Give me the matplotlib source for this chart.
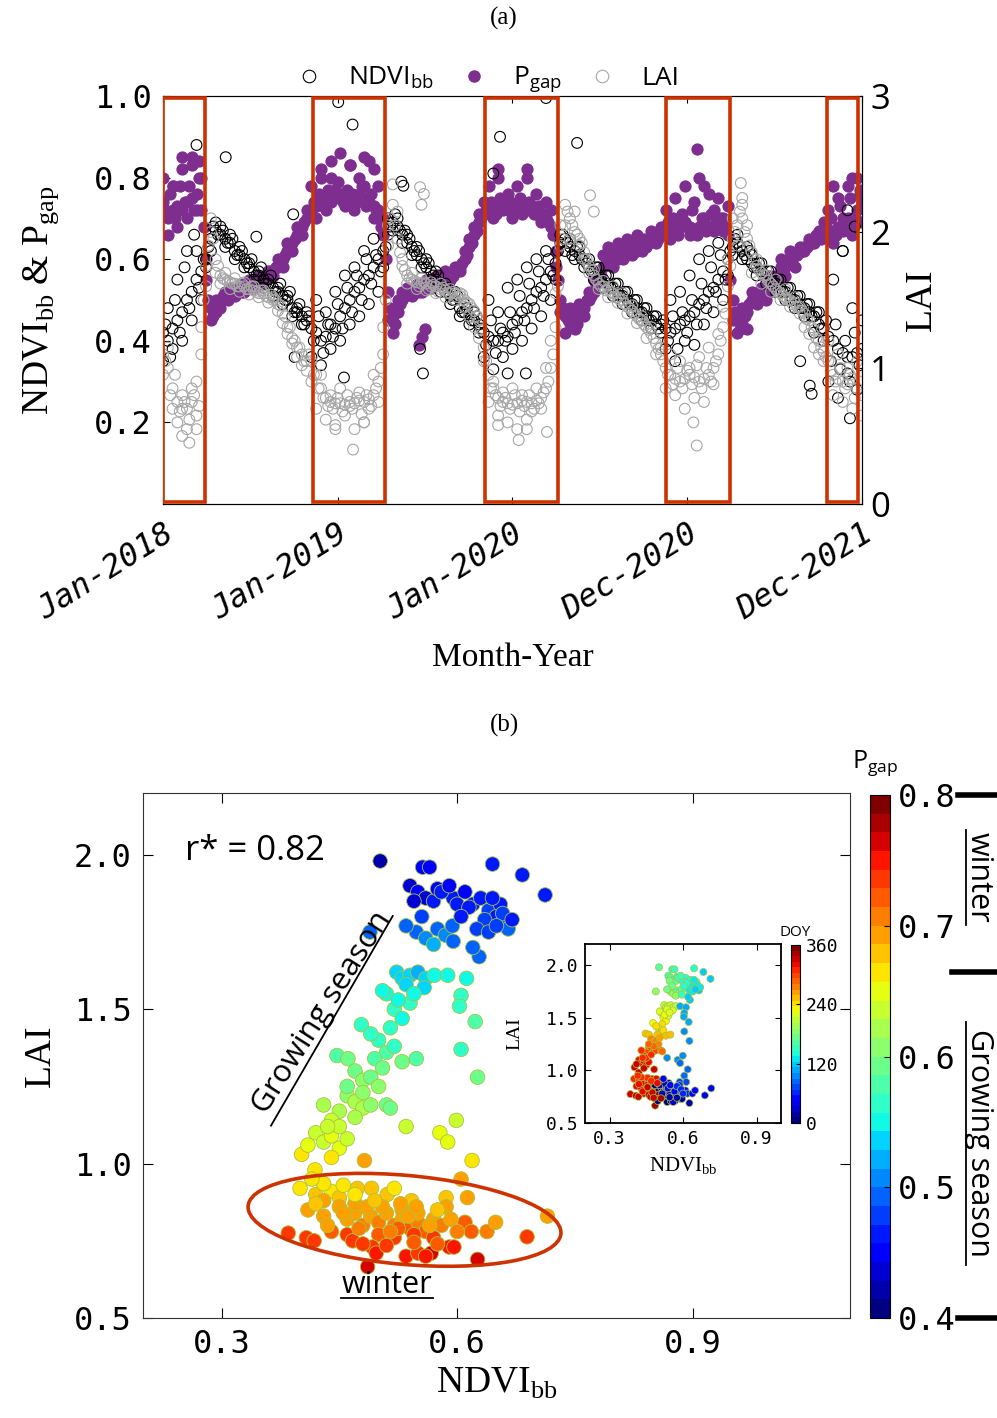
import numpy as np
import matplotlib
import matplotlib.pyplot as plt
from matplotlib.lines import Line2D
from matplotlib.patches import Rectangle, Ellipse
from matplotlib.transforms import ScaledTranslation, blended_transform_factory

plt.rcParams['mathtext.fontset'] = 'custom'
plt.rcParams['mathtext.rm'] = 'Liberation Serif'
plt.rcParams['mathtext.sf'] = 'Open Sans'

SERIF = 'Liberation Serif'
MONO = 'DejaVu Sans Mono'
SANS = 'Open Sans'
NARROW = ['Liberation Sans Narrow', 'Open Sans']
PURPLE = '#7d2e8e'
GRAY = '#a6a6a6'
RED = '#cc3300'
EDGE = '#a9c23f'

# ---------------- panel (a): time series ----------------
# two readings on days 0,10,...,1460 and one on days 5,15,...,1455
days = np.arange(0, 1461, 10)
days_mid = np.arange(5, 1460, 10)
tick_days = [0, 365, 730, 1095, 1460]
tick_names = ['Jan-2018', 'Jan-2019', 'Jan-2020', 'Dec-2020', 'Dec-2021']
winters = [(0, 88), (313, 464), (672, 825), (1050, 1184), (1387, 1452)]

ndvi_a = [0.42, 0.40, 0.43, 0.45, 0.47, 0.50, 0.52, 0.55, 0.57,
          0.60, 0.65, 0.67,
          0.66, 0.65, 0.64, 0.62, 0.61, 0.60, 0.58, 0.57, 0.56, 0.55, 0.54, 0.53, 0.52, 0.51, 0.50, 0.48, 0.47, 0.46, 0.45,
          0.43, 0.42, 0.40, 0.41, 0.44, 0.43, 0.46, 0.48, 0.50, 0.52, 0.53, 0.55, 0.56, 0.58, 0.60, 0.62,
          0.66, 0.69, 0.68, 0.66,
          0.64, 0.63, 0.61, 0.60, 0.58, 0.57, 0.55, 0.54, 0.52, 0.51, 0.50, 0.48, 0.47, 0.46, 0.45, 0.44,
          0.42, 0.41, 0.40, 0.40, 0.42, 0.41, 0.44, 0.45, 0.47, 0.48, 0.50, 0.52, 0.53, 0.55, 0.57, 0.59,
          0.64, 0.65, 0.63, 0.62,
          0.61, 0.60, 0.58, 0.57, 0.56, 0.55, 0.54, 0.53, 0.52, 0.51, 0.50, 0.49, 0.48, 0.47, 0.46, 0.45, 0.44, 0.44,
          0.43, 0.42, 0.43, 0.44, 0.45, 0.46, 0.47, 0.49, 0.50, 0.52, 0.53, 0.55, 0.57, 0.60,
          0.63, 0.64, 0.62, 0.60,
          0.59, 0.58, 0.57, 0.56, 0.55, 0.54, 0.53, 0.52, 0.51, 0.50, 0.49, 0.48, 0.47, 0.46, 0.44, 0.43,
          0.41, 0.40, 0.38, 0.37, 0.36, 0.36, 0.37, 0.38]
ndvi_b = [0.35, 0.48, 0.38, 0.55, 0.40, 0.62, 0.45, 0.62, 0.50,
          0.58, 0.62, 0.69,
          0.68, 0.63, 0.66, 0.60, 0.63, 0.58, 0.59, 0.55, 0.57, 0.53, 0.55, 0.51, 0.53, 0.49, 0.51, 0.46, 0.48, 0.44, 0.47,
          0.36, 0.50, 0.34, 0.47, 0.38, 0.52, 0.40, 0.56, 0.44, 0.58, 0.46, 0.62, 0.49, 0.65, 0.52, 0.58,
          0.70, 0.67, 0.70, 0.64,
          0.66, 0.61, 0.63, 0.58, 0.60, 0.55, 0.57, 0.52, 0.54, 0.49, 0.52, 0.46, 0.49, 0.44, 0.47, 0.42,
          0.36, 0.50, 0.33, 0.47, 0.36, 0.53, 0.38, 0.55, 0.40, 0.58, 0.43, 0.60, 0.46, 0.62, 0.50, 0.55,
          0.66, 0.62, 0.65, 0.60,
          0.63, 0.58, 0.60, 0.55, 0.58, 0.53, 0.56, 0.51, 0.54, 0.49, 0.52, 0.47, 0.50, 0.45, 0.48, 0.43, 0.46, 0.42,
          0.38, 0.50, 0.35, 0.52, 0.40, 0.56, 0.39, 0.60, 0.44, 0.62, 0.47, 0.64, 0.50, 0.56,
          0.61, 0.66, 0.60, 0.63,
          0.61, 0.56, 0.59, 0.54, 0.57, 0.52, 0.55, 0.50, 0.53, 0.48, 0.51, 0.46, 0.49, 0.42, 0.47, 0.40,
          0.30, 0.55, 0.26, 0.62, 0.32, 0.48, 0.28, 0.45]
ndvi_c = [0.44, 0.36, 0.50, 0.42, 0.58, 0.48, 0.66, 0.53, 0.60,
          0.63, 0.68, 0.66,
          0.67, 0.64, 0.65, 0.61, 0.62, 0.59, 0.60, 0.56, 0.58, 0.54, 0.56, 0.52, 0.54, 0.50, 0.52, 0.47, 0.49, 0.44, 0.46,
          0.40, 0.46, 0.37, 0.44, 0.41, 0.49, 0.43, 0.53, 0.47, 0.56, 0.50, 0.60, 0.54, 0.61, 0.57,
          0.63, 0.68, 0.71, 0.67, 0.67,
          0.65, 0.62, 0.62, 0.59, 0.59, 0.56, 0.56, 0.53, 0.53, 0.50, 0.51, 0.47, 0.48, 0.45, 0.46, 0.43,
          0.39, 0.45, 0.37, 0.43, 0.40, 0.47, 0.42, 0.51, 0.45, 0.54, 0.48, 0.57, 0.51, 0.60, 0.56,
          0.62, 0.66, 0.64, 0.61, 0.63,
          0.60, 0.59, 0.57, 0.58, 0.55, 0.56, 0.53, 0.54, 0.51, 0.52, 0.49, 0.50, 0.47, 0.48, 0.45, 0.46, 0.43, 0.45,
          0.40, 0.46, 0.38, 0.47, 0.42, 0.50, 0.44, 0.54, 0.48, 0.58, 0.52, 0.61, 0.55,
          0.62, 0.65, 0.63, 0.61, 0.62,
          0.58, 0.59, 0.56, 0.57, 0.54, 0.55, 0.52, 0.53, 0.50, 0.51, 0.48, 0.49, 0.46, 0.47, 0.43, 0.45,
          0.35, 0.44, 0.33, 0.40, 0.30, 0.42, 0.34]
ndvi_x_days = [70, 131, 272, 195, 366, 396, 498, 502, 704, 690, 865, 800, 1430, 1445, 1420,
               537, 543, 275, 378, 1331, 1351, 1355, 1435, 758, 720]
ndvi_x_vals = [0.88, 0.85, 0.71, 0.655, 0.985, 0.93, 0.79, 0.78, 0.90, 0.81, 0.885, 0.995, 0.72, 0.68, 0.62,
               0.38, 0.32, 0.36, 0.31, 0.35, 0.29, 0.27, 0.21, 0.32, 0.32]

pgap_a = [0.74, 0.70, 0.72, 0.73, 0.72, 0.74, 0.75, 0.76, 0.72,
          0.55, 0.48, 0.47,
          0.50, 0.51, 0.52, 0.52, 0.53, 0.53, 0.54, 0.54, 0.55, 0.56, 0.56, 0.57, 0.58, 0.60, 0.62, 0.64, 0.66, 0.68, 0.70,
          0.72, 0.73, 0.74, 0.75, 0.74, 0.75, 0.76, 0.75, 0.74, 0.75, 0.76, 0.75, 0.74, 0.73, 0.72, 0.70,
          0.52, 0.46, 0.47, 0.50,
          0.52, 0.53, 0.53, 0.54, 0.54, 0.54, 0.55, 0.55, 0.55, 0.56, 0.57, 0.58, 0.60, 0.63, 0.66, 0.69,
          0.71, 0.72, 0.72, 0.73, 0.72, 0.72, 0.73, 0.72, 0.71, 0.72, 0.72, 0.71, 0.70, 0.70, 0.68, 0.62,
          0.50, 0.46, 0.44, 0.45,
          0.47, 0.48, 0.50, 0.52, 0.55, 0.58, 0.60, 0.61, 0.60, 0.62, 0.61, 0.63, 0.62, 0.64, 0.63, 0.65, 0.64, 0.66,
          0.67, 0.68, 0.67, 0.68, 0.69, 0.68, 0.67, 0.68, 0.69, 0.68, 0.67, 0.68, 0.67, 0.66,
          0.50, 0.45, 0.44, 0.47,
          0.50, 0.51, 0.52, 0.52, 0.54, 0.56, 0.58, 0.58, 0.60, 0.61, 0.62, 0.63, 0.64, 0.65, 0.66, 0.67,
          0.66, 0.67, 0.68, 0.67, 0.70, 0.68, 0.72, 0.69]
pgap_b = [0.80, 0.66, 0.78, 0.68, 0.82, 0.70, 0.85, 0.72, 0.80,
          0.60, 0.45, 0.50,
          0.48, 0.52, 0.53, 0.51, 0.54, 0.52, 0.55, 0.53, 0.56, 0.55, 0.57, 0.56, 0.60, 0.58, 0.64, 0.62, 0.68, 0.66, 0.72,
          0.78, 0.70, 0.82, 0.72, 0.80, 0.77, 0.86, 0.73, 0.83, 0.72, 0.80, 0.78, 0.84, 0.70, 0.78, 0.66,
          0.45, 0.42, 0.50, 0.52,
          0.53, 0.51, 0.54, 0.52, 0.55, 0.53, 0.56, 0.54, 0.57, 0.55, 0.58, 0.57, 0.62, 0.65, 0.68, 0.71,
          0.74, 0.78, 0.70, 0.80, 0.74, 0.76, 0.70, 0.78, 0.74, 0.82, 0.73, 0.76, 0.69, 0.74, 0.72, 0.58,
          0.47, 0.42, 0.48, 0.43,
          0.49, 0.46, 0.52, 0.55, 0.57, 0.61, 0.63, 0.58, 0.64, 0.60, 0.65, 0.61, 0.66, 0.62, 0.64, 0.67, 0.65, 0.68,
          0.72, 0.65, 0.75, 0.70, 0.78, 0.66, 0.74, 0.80, 0.70, 0.76, 0.72, 0.75, 0.70, 0.73,
          0.45, 0.42, 0.48, 0.43,
          0.52, 0.49, 0.53, 0.50, 0.56, 0.54, 0.60, 0.56, 0.62, 0.58, 0.63, 0.62, 0.65, 0.64, 0.67, 0.69,
          0.72, 0.64, 0.75, 0.70, 0.78, 0.66, 0.80, 0.74]
pgap_c = [0.72, 0.76, 0.70, 0.78, 0.74, 0.78, 0.72, 0.80, 0.68,
          0.50, 0.46, 0.49,
          0.51, 0.50, 0.52, 0.53, 0.52, 0.54, 0.53, 0.55, 0.54, 0.56, 0.57, 0.58, 0.59, 0.61, 0.63, 0.65, 0.67, 0.69, 0.71,
          0.74, 0.76, 0.73, 0.77, 0.75, 0.79, 0.74, 0.77, 0.76, 0.74, 0.78, 0.73, 0.76, 0.72, 0.68,
          0.60, 0.48, 0.44, 0.49, 0.51,
          0.52, 0.53, 0.52, 0.53, 0.55, 0.54, 0.55, 0.56, 0.54, 0.56, 0.57, 0.59, 0.61, 0.64, 0.67, 0.70,
          0.72, 0.74, 0.71, 0.75, 0.73, 0.74, 0.72, 0.75, 0.72, 0.74, 0.71, 0.73, 0.71, 0.69, 0.66,
          0.55, 0.48, 0.45, 0.46, 0.44,
          0.48, 0.50, 0.51, 0.54, 0.56, 0.59, 0.60, 0.62, 0.61, 0.63, 0.62, 0.64, 0.63, 0.65, 0.64, 0.66, 0.65, 0.67,
          0.69, 0.70, 0.66, 0.71, 0.68, 0.72, 0.66, 0.70, 0.67, 0.71, 0.69, 0.70, 0.68,
          0.55, 0.47, 0.43, 0.46, 0.49,
          0.51, 0.50, 0.53, 0.52, 0.55, 0.55, 0.57, 0.59, 0.59, 0.61, 0.62, 0.63, 0.64, 0.66, 0.65, 0.68,
          0.70, 0.66, 0.73, 0.69, 0.75, 0.70, 0.77]
pgap_x_days = [330, 350, 390, 420, 440, 535, 540, 548, 700, 760, 1115, 1130, 1400, 1440, 1455, 40, 60, 75, 20]
pgap_x_vals = [0.80, 0.84, 0.83, 0.85, 0.82, 0.39, 0.41, 0.43, 0.82, 0.80, 0.87, 0.78, 0.78, 0.80, 0.76,
               0.85, 0.83, 0.84, 0.78]

lai_a = [1.10, 1.00, 0.85, 0.75, 0.70, 0.70, 0.75, 0.90, 1.30,
         1.75, 2.00, 1.80,
         1.68, 1.65, 1.63, 1.62, 1.60, 1.60, 1.58, 1.57, 1.55, 1.55, 1.52, 1.50, 1.47, 1.40, 1.30, 1.22, 1.15, 1.10, 1.05,
         1.05, 0.95, 0.85, 0.78, 0.75, 0.74, 0.74, 0.73, 0.75, 0.74, 0.76, 0.75, 0.77, 0.80, 0.90, 1.10,
         1.90, 2.20, 1.95, 1.75,
         1.68, 1.65, 1.63, 1.62, 1.62, 1.60, 1.60, 1.58, 1.57, 1.55, 1.55, 1.53, 1.50, 1.47, 1.42, 1.35,
         1.15, 0.95, 0.85, 0.78, 0.75, 0.74, 0.73, 0.74, 0.76, 0.75, 0.74, 0.76, 0.78, 0.85, 1.00, 1.30,
         1.90, 2.05, 2.10, 2.00,
         1.95, 1.85, 1.75, 1.68, 1.62, 1.60, 1.58, 1.55, 1.52, 1.50, 1.45, 1.42, 1.38, 1.35, 1.30, 1.25, 1.18, 1.10,
         1.00, 0.95, 0.92, 0.90, 0.92, 0.95, 0.93, 0.90, 0.92, 0.95, 1.00, 1.10, 1.30, 1.60,
         1.95, 2.05, 2.10, 1.95,
         1.85, 1.75, 1.70, 1.68, 1.62, 1.58, 1.55, 1.52, 1.50, 1.48, 1.45, 1.40, 1.35, 1.28, 1.20, 1.12,
         1.05, 0.95, 0.92, 0.90, 0.88, 0.92, 0.85, 0.80]
lai_b = [0.95, 1.15, 0.70, 0.60, 0.80, 0.55, 0.85, 0.65, 1.10,
         1.60, 2.10, 1.70,
         1.62, 1.70, 1.58, 1.66, 1.56, 1.63, 1.54, 1.60, 1.52, 1.57, 1.48, 1.52, 1.42, 1.33, 1.25, 1.18, 1.08, 1.02, 0.98,
         0.90, 0.70, 0.95, 0.62, 0.80, 0.58, 0.85, 0.65, 0.72, 0.55, 0.82, 0.60, 0.70, 0.95, 0.75, 1.30,
         2.05, 2.35, 2.15, 1.80,
         1.62, 1.70, 1.58, 1.66, 1.57, 1.63, 1.55, 1.62, 1.52, 1.58, 1.50, 1.55, 1.45, 1.38, 1.30, 1.22,
         1.05, 0.75, 0.90, 0.65, 0.82, 0.60, 0.85, 0.55, 0.80, 0.62, 0.68, 0.85, 0.70, 1.00, 1.20, 1.55,
         2.05, 2.20, 1.95, 2.15,
         1.90, 1.80, 1.70, 1.72, 1.58, 1.64, 1.52, 1.60, 1.48, 1.55, 1.40, 1.46, 1.33, 1.38, 1.22, 1.30, 1.10, 1.15,
         0.85, 1.10, 0.80, 1.05, 0.70, 1.00, 0.78, 1.08, 0.75, 1.15, 0.88, 1.25, 1.45, 1.80,
         2.10, 1.90, 2.20, 2.05,
         1.70, 1.80, 1.62, 1.72, 1.56, 1.65, 1.50, 1.58, 1.45, 1.52, 1.40, 1.30, 1.25, 1.15, 1.10, 1.05,
         1.20, 0.80, 1.10, 0.75, 1.00, 0.70, 1.05, 0.65]
lai_c = [1.05, 0.80, 0.95, 0.68, 0.75, 0.62, 0.80, 0.72, 1.50,
         1.90, 1.95, 1.75,
         1.66, 1.64, 1.62, 1.60, 1.62, 1.58, 1.60, 1.56, 1.57, 1.53, 1.54, 1.50, 1.46, 1.38, 1.30, 1.20, 1.15, 1.05, 1.10,
         0.95, 0.85, 0.78, 0.72, 0.70, 0.78, 0.68, 0.80, 0.70, 0.78, 0.66, 0.80, 0.72, 0.85, 1.00,
         1.50, 2.10, 2.05, 1.85, 1.72,
         1.66, 1.64, 1.60, 1.63, 1.58, 1.61, 1.56, 1.59, 1.55, 1.56, 1.52, 1.54, 1.48, 1.44, 1.38, 1.28,
         1.05, 0.85, 0.80, 0.72, 0.78, 0.70, 0.80, 0.68, 0.72, 0.80, 0.70, 0.74, 0.82, 0.90, 1.10,
         1.60, 1.95, 2.15, 2.05, 1.98,
         1.92, 1.80, 1.72, 1.65, 1.60, 1.57, 1.56, 1.52, 1.50, 1.47, 1.44, 1.40, 1.36, 1.32, 1.28, 1.22, 1.14, 1.05,
         0.95, 0.88, 1.00, 0.85, 0.98, 0.88, 1.02, 0.85, 1.00, 0.90, 1.05, 1.20, 1.40,
         1.75, 2.00, 2.15, 2.00, 1.90,
         1.80, 1.72, 1.68, 1.64, 1.60, 1.56, 1.53, 1.50, 1.47, 1.45, 1.42, 1.36, 1.30, 1.22, 1.15, 1.08,
         0.98, 0.90, 1.00, 0.85, 0.95, 0.78, 0.90]
lai_x_days = [40, 55, 70, 397, 743, 802, 1115, 1108, 537, 540, 545, 1207, 892, 1210, 900, 360, 420, 700, 760]
lai_x_vals = [0.50, 0.45, 0.55, 0.40, 0.47, 0.53, 0.43, 0.60, 2.33, 2.20, 2.28, 2.36, 2.27, 2.25, 2.15,
              0.55, 0.60, 0.58, 0.55]

for series in (ndvi_a, ndvi_b, pgap_a, pgap_b, lai_a, lai_b):
    assert len(series) == len(days)
for series in (ndvi_c, pgap_c, lai_c):
    assert len(series) == len(days_mid)

# ---------------- panel (b): NDVI vs LAI, coloured by Pgap / DOY ----------------
sc_ndvi = [0.502, 0.556, 0.565, 0.645, 0.683, 0.712, 0.540, 0.550, 0.560, 0.570, 0.545, 0.575, 0.595, 0.610,
           0.620, 0.630, 0.640, 0.650, 0.660, 0.635, 0.655, 0.665, 0.625, 0.600, 0.628, 0.620, 0.548, 0.560,
           0.575, 0.585, 0.594, 0.570, 0.489, 0.658, 0.670,
           0.580, 0.590, 0.615, 0.645, 0.640, 0.605, 0.555, 0.535, 0.595, 0.650,
           0.523, 0.530, 0.540, 0.550, 0.560, 0.571, 0.558, 0.510, 0.520, 0.530, 0.515, 0.540, 0.478, 0.500,
           0.510, 0.520, 0.530, 0.495, 0.447, 0.461, 0.548,
           0.470, 0.480, 0.490, 0.500, 0.460, 0.470, 0.480, 0.450, 0.440, 0.490, 0.510, 0.515, 0.430,
           0.420, 0.430, 0.440, 0.450, 0.460, 0.402, 0.410, 0.482, 0.419, 0.440,
           0.505, 0.525, 0.535, 0.545, 0.490, 0.505, 0.480, 0.460, 0.450, 0.435, 0.470,
           0.588, 0.612, 0.605, 0.603, 0.623, 0.605, 0.626, 0.535, 0.578, 0.588, 0.599, 0.619, 0.605, 0.613,
           0.400, 0.420, 0.440, 0.450, 0.473, 0.491, 0.511, 0.586, 0.586, 0.542,
           0.410, 0.430, 0.450, 0.460, 0.470, 0.480, 0.490, 0.500, 0.510, 0.520,
           0.530, 0.540, 0.550, 0.560, 0.570, 0.580, 0.440, 0.460, 0.500, 0.520,
           0.385, 0.610, 0.618, 0.638, 0.649, 0.689, 0.715, 0.626, 0.567, 0.590,
           0.596, 0.486, 0.467, 0.492, 0.497, 0.535, 0.550, 0.560, 0.408, 0.418,
           0.430, 0.470, 0.530, 0.550, 0.525, 0.545, 0.570,
           0.420, 0.435, 0.455, 0.475, 0.485, 0.505, 0.515, 0.528, 0.538, 0.548, 0.565, 0.575,
           0.592, 0.600, 0.480, 0.510, 0.545, 0.575, 0.455, 0.470, 0.495, 0.520, 0.430, 0.415]
sc_lai = [1.98, 1.96, 1.96, 1.97, 1.935, 1.87, 1.90, 1.88, 1.86, 1.85, 1.85, 1.89, 1.86, 1.88,
          1.84, 1.86, 1.82, 1.80, 1.78, 1.79, 1.84, 1.76, 1.76, 1.84, 1.67, 1.70, 1.75, 1.73,
          1.76, 1.74, 1.77, 1.71, 1.75, 1.81, 1.79,
          1.88, 1.90, 1.83, 1.86, 1.75, 1.80, 1.80, 1.77, 1.72, 1.77,
          1.62, 1.60, 1.61, 1.62, 1.60, 1.61, 1.57, 1.55, 1.50, 1.47, 1.44, 1.52, 1.45, 1.40,
          1.36, 1.38, 1.33, 1.34, 1.35, 1.34, 1.34,
          1.30, 1.27, 1.28, 1.25, 1.22, 1.20, 1.18, 1.17, 1.14, 1.19, 1.19, 1.18, 1.19,
          1.10, 1.07, 1.09, 1.05, 1.08, 1.03, 1.06, 1.01, 0.98, 1.02,
          1.56, 1.53, 1.58, 1.55, 1.42, 1.31, 1.23, 1.25, 1.12, 1.12, 1.15,
          1.61, 1.60, 1.545, 1.51, 1.46, 1.37, 1.28, 1.12, 1.10, 1.07, 1.14, 1.01, 0.95, 0.89,
          0.92, 0.90, 0.91, 0.89, 0.92, 0.92, 0.90, 0.89, 0.86, 0.88,
          0.85, 0.83, 0.86, 0.82, 0.84, 0.80, 0.83, 0.81, 0.84, 0.80,
          0.82, 0.79, 0.81, 0.78, 0.82, 0.80, 0.78, 0.77, 0.77, 0.76,
          0.775, 0.81, 0.78, 0.78, 0.81, 0.763, 0.83, 0.69, 0.71, 0.73,
          0.73, 0.666, 0.75, 0.73, 0.71, 0.70, 0.71, 0.70, 0.76, 0.75,
          0.88, 0.87, 0.85, 0.84, 0.79, 0.77, 0.76,
          0.87, 0.80, 0.84, 0.79, 0.86, 0.86, 0.78, 0.87, 0.83, 0.86, 0.80, 0.85,
          0.82, 0.78, 0.74, 0.735, 0.745, 0.74, 0.93, 0.90, 0.88, 0.92, 0.935, 0.95]
sc_pgap = [0.42, 0.45, 0.45, 0.46, 0.47, 0.47, 0.44, 0.45, 0.44, 0.46, 0.43, 0.45, 0.46, 0.45,
           0.47, 0.46, 0.48, 0.47, 0.49, 0.48, 0.46, 0.49, 0.48, 0.47, 0.50, 0.49, 0.50, 0.51,
           0.50, 0.51, 0.50, 0.52, 0.49, 0.48, 0.47,
           0.46, 0.45, 0.47, 0.46, 0.48, 0.47, 0.48, 0.49, 0.50, 0.48,
           0.53, 0.54, 0.53, 0.52, 0.54, 0.55, 0.54, 0.55, 0.56, 0.55, 0.57, 0.56, 0.56, 0.57,
           0.58, 0.57, 0.59, 0.58, 0.58, 0.59, 0.58,
           0.60, 0.61, 0.60, 0.61, 0.61, 0.62, 0.62, 0.62, 0.63, 0.61, 0.60, 0.60, 0.62,
           0.64, 0.64, 0.65, 0.65, 0.64, 0.67, 0.65, 0.69, 0.67, 0.66,
           0.55, 0.55, 0.54, 0.55, 0.57, 0.59, 0.61, 0.60, 0.63, 0.63, 0.62,
           0.55, 0.55, 0.56, 0.57, 0.58, 0.57, 0.60, 0.64, 0.65, 0.65, 0.64, 0.67, 0.69, 0.70,
           0.67, 0.68, 0.67, 0.68, 0.68, 0.68, 0.68, 0.68, 0.69, 0.68,
           0.69, 0.70, 0.69, 0.70, 0.69, 0.71, 0.70, 0.71, 0.70, 0.71,
           0.70, 0.72, 0.71, 0.72, 0.70, 0.71, 0.72, 0.73, 0.72, 0.73,
           0.74, 0.72, 0.72, 0.71, 0.70, 0.74, 0.70, 0.76, 0.77, 0.75,
           0.75, 0.77, 0.74, 0.74, 0.75, 0.75, 0.74, 0.75, 0.73, 0.74,
           0.69, 0.69, 0.70, 0.70, 0.72, 0.73, 0.73,
           0.68, 0.70, 0.69, 0.71, 0.69, 0.69, 0.71, 0.69, 0.70, 0.69, 0.70, 0.68,
           0.69, 0.71, 0.73, 0.73, 0.72, 0.72, 0.66, 0.67, 0.68, 0.67, 0.66, 0.66]
sc_doy = [160, 150, 148, 140, 120, 118, 152, 165, 145, 160, 170, 140, 135, 142,
          130, 138, 128, 132, 125, 130, 135, 120, 127, 145, 115, 118, 175, 180,
          165, 170, 160, 182, 185, 130, 125,
          150, 155, 135, 130, 125, 140, 170, 175, 155, 120,
          212, 210, 208, 206, 212, 210, 216, 225, 230, 234, 238, 222, 236, 242,
          250, 246, 256, 252, 258, 255, 250,
          270, 275, 272, 280, 290, 296, 300, 302, 308, 294, 288, 285, 305,
          315, 320, 318, 325, 320, 332, 328, 335, 336, 330,
          222, 226, 220, 218, 238, 265, 285, 282, 310, 312, 306,
          112, 110, 108, 105, 102, 98, 95, 92, 90, 88, 93, 85, 80, 75,
          305, 310, 308, 312, 315, 318, 40, 70, 65, 50,
          320, 322, 318, 325, 328, 330, 332, 20, 30, 35,
          25, 45, 40, 55, 50, 60, 334, 336, 338, 10,
          335, 55, 60, 48, 52, 40, 35, 15, 8, 12,
          18, 338, 336, 340, 5, 3, 20, 25, 330, 334,
          316, 320, 28, 45, 15, 33, 42,
          318, 325, 328, 332, 5, 20, 25, 30, 45, 50, 55, 58,
          62, 65, 336, 340, 15, 22, 310, 312, 322, 35, 306, 304]
assert len(sc_ndvi) == len(sc_lai) == len(sc_pgap) == len(sc_doy)

pgap_ticks = [0.4, 0.5, 0.6, 0.7, 0.8]
doy_ticks = [0, 120, 240, 360]


def style_labels(labels, family, size, style='normal'):
    for lbl in labels:
        lbl.set_family(family)
        lbl.set_fontsize(size)
        lbl.set_style(style)


fig = plt.figure(figsize=(9.97, 14.18), dpi=100)

# ---------------- panel (a) ----------------
ax = fig.add_axes([0.1635, 0.6446, 0.701, 0.2877])
ax2 = ax.twinx()

for xs, ys in [(days, pgap_a), (days, pgap_b), (days_mid, pgap_c), (pgap_x_days, pgap_x_vals)]:
    ax.scatter(xs, ys, s=78, color=PURPLE, lw=0, zorder=2)
for xs, ys in [(days, ndvi_a), (days, ndvi_b), (days_mid, ndvi_c), (ndvi_x_days, ndvi_x_vals)]:
    ax.scatter(xs, ys, s=60, facecolors='none', edgecolors='k', lw=0.8, zorder=3)
for xs, ys in [(days, lai_a), (days, lai_b), (days_mid, lai_c), (lai_x_days, lai_x_vals)]:
    ax2.scatter(xs, ys, s=60, facecolors='none', edgecolors=GRAY, lw=0.8)

for start, end in winters:
    ax2.add_patch(Rectangle((start, 0.005), end - start, 0.99, transform=ax2.get_xaxis_transform(),
                            fill=False, ec=RED, lw=2.6, zorder=6))

ax.set_xlim(0, 1460)
ax.set_ylim(0, 1)
ax2.set_ylim(0, 3)
ax.set_yticks([0.2, 0.4, 0.6, 0.8, 1.0])
ax.set_yticklabels(['%.1f' % v for v in [0.2, 0.4, 0.6, 0.8, 1.0]])
ax2.set_yticks([0, 1, 2, 3])
ax.set_xticks(tick_days)
ax.set_xticklabels(tick_names, rotation=32, ha='right', rotation_mode='anchor')
style_labels(ax.get_xticklabels(), MONO, 23, 'oblique')
style_labels(ax.get_yticklabels(), MONO, 23)
style_labels(ax2.get_yticklabels(), NARROW, 25)
ax.tick_params(axis='both', direction='in', length=5, top=True, pad=8)
ax.tick_params(axis='x', pad=10)
ax2.tick_params(axis='y', direction='in', length=5, pad=6)

ax.set_ylabel(r'NDVI$_{\rm bb}$ & P$_{\rm gap}$', family=SERIF, fontsize=27, labelpad=24)
ax2.set_ylabel('LAI', family=SERIF, fontsize=27, labelpad=10)
ax.set_xlabel('Month-Year', family=SERIF, fontsize=24, labelpad=12)

handles = [Line2D([], [], ls='none', marker='o', mfc='none', mec='k', ms=9, mew=0.8),
           Line2D([], [], ls='none', marker='o', mfc=PURPLE, mec=PURPLE, ms=8),
           Line2D([], [], ls='none', marker='o', mfc='none', mec=GRAY, ms=9, mew=0.8)]
ax2.legend(handles, [r'NDVI$_{\mathsf{bb}}$', r'P$_{\mathsf{gap}}$', 'LAI'], loc='lower center',
           bbox_to_anchor=(0.462, 0.995), ncol=3, frameon=False, prop={'family': SANS, 'size': 19},
           handlelength=1.2, handletextpad=0.9, columnspacing=0.9, borderaxespad=0, borderpad=0.1)

fig.text(504 / 997, 1 - 18 / 1418, '(a)', family=SERIF, fontsize=18, ha='center', va='center')
fig.text(504 / 997, 1 - 725 / 1418, '(b)', family=SERIF, fontsize=18, ha='center', va='center')

# ---------------- panel (b) ----------------
bx = fig.add_axes([0.1434, 0.0705, 0.709, 0.3702])
pg_cmap = matplotlib.colormaps['jet'].resampled(28)
sc = bx.scatter(sc_ndvi, sc_lai, c=sc_pgap, cmap=pg_cmap, vmin=0.4, vmax=0.8, s=110,
                edgecolors=EDGE, linewidths=0.6, zorder=3)
bx.set_xlim(0.2, 1.1)
bx.set_ylim(0.5, 2.2)
bx.set_xticks([0.3, 0.6, 0.9])
bx.set_xticklabels(['0.3', '0.6', '0.9'])
bx.set_yticks([0.5, 1.0, 1.5, 2.0])
bx.set_yticklabels(['0.5', '1.0', '1.5', '2.0'])
style_labels(bx.get_xticklabels() + bx.get_yticklabels(), MONO, 23)
shift = ScaledTranslation(0.09, 0, fig.dpi_scale_trans)
for lbl in bx.get_xticklabels():
    lbl.set_transform(lbl.get_transform() + shift)
bx.tick_params(direction='in', length=7, top=True, right=True, pad=8)
for sp in bx.spines.values():
    sp.set_color('#333333')
bx.set_ylabel('LAI', family=SERIF, fontsize=27, labelpad=12)
bx.set_xlabel(r'NDVI$_{\rm bb}$', family=SERIF, fontsize=27, labelpad=4)

bx.text(0.253, 2.013, 'r* = 0.82', family=SANS, fontsize=25, ha='left', va='center')
bx.text(0.428, 1.49, 'Growing season', family=SANS, fontsize=22.5, rotation=57.5,
        rotation_mode='anchor', ha='center', va='center')
bx.plot([0.363, 0.518], [1.123, 1.802], color='k', lw=1.3)
bx.text(0.511, 0.607, 'winter', family=SANS, fontsize=22, ha='center', va='center')
bx.plot([0.452, 0.569], [0.565, 0.565], color='k', lw=1.3)

ell = Ellipse((0, 0), 3.14, 0.89, angle=-5.1, fill=False, ec=RED, lw=2.6, zorder=4,
              transform=fig.dpi_scale_trans + ScaledTranslation(0.533, 0.818, bx.transData))
bx.add_artist(ell)

cax = fig.add_axes([0.8726, 0.0705, 0.0201, 0.3688])
cb = fig.colorbar(sc, cax=cax, ticks=pgap_ticks)
cb.ax.set_yticklabels(['%.1f' % v for v in pgap_ticks])
style_labels(cb.ax.get_yticklabels(), MONO, 23)
cb.ax.tick_params(direction='in', length=4, width=0.8, pad=6)
cb.outline.set_linewidth(0.8)
fig.text(852 / 997, 1 - 768 / 1418, r'P$_{\mathsf{gap}}$', family=SANS, fontsize=18, ha='left', va='baseline')

mark_tr = blended_transform_factory(cax.transAxes, cax.transData)
for yv, x0 in [(0.8, 4.4), (0.665, 4.1), (0.4, 4.4)]:
    cax.plot([x0, 6.5], [yv, yv], color='k', lw=4, transform=mark_tr, clip_on=False)

fig.text(979 / 997, 1 - 877 / 1418, 'winter', family=SANS, fontsize=22, rotation=-90,
         ha='center', va='center')
fig.add_artist(Line2D([966 / 997, 966 / 997], [1 - 830 / 1418, 1 - 925 / 1418], color='k', lw=1.3))
fig.text(979 / 997, 1 - 1143 / 1418, 'Growing season', family=SANS, fontsize=22, rotation=-90,
         ha='center', va='center')
fig.add_artist(Line2D([966 / 997, 966 / 997], [1 - 1022 / 1418, 1 - 1265 / 1418], color='k', lw=1.3))

# ---------------- inset ----------------
ix = fig.add_axes([0.5868, 0.208, 0.1966, 0.1262])
doy_cmap = matplotlib.colormaps['jet'].resampled(32)
isc = ix.scatter(sc_ndvi, sc_lai, c=sc_doy, cmap=doy_cmap, vmin=0, vmax=360, s=26,
                 edgecolors=EDGE, linewidths=0.5)
ix.set_xlim(0.2, 1.0)
ix.set_ylim(0.5, 2.2)
ix.set_xticks([0.3, 0.6, 0.9])
ix.set_xticklabels(['0.3', '0.6', '0.9'])
ix.set_yticks([0.5, 1.0, 1.5, 2.0])
ix.set_yticklabels(['0.5', '1.0', '1.5', '2.0'])
style_labels(ix.get_xticklabels() + ix.get_yticklabels(), MONO, 13)
ix.tick_params(direction='in', length=4, top=True, right=True, pad=5)
for sp in ix.spines.values():
    sp.set_linewidth(1.3)
ix.set_ylabel('LAI', family=SERIF, fontsize=14, labelpad=16)
ix.set_xlabel(r'NDVI$_{\rm bb}$', family=SERIF, fontsize=15, labelpad=5)

icax = fig.add_axes([791 / 997, 0.208, 9 / 997, 0.1255])
icb = fig.colorbar(isc, cax=icax, ticks=doy_ticks)
style_labels(icb.ax.get_yticklabels(), MONO, 13)
icb.ax.tick_params(direction='in', length=3, width=0.8, pad=4)
icb.outline.set_linewidth(0.8)
fig.text(795 / 997, 1 - 933 / 1418, 'DOY', family=SANS, fontsize=11, ha='center', va='center')

fig.savefig('out.png', dpi=100)
